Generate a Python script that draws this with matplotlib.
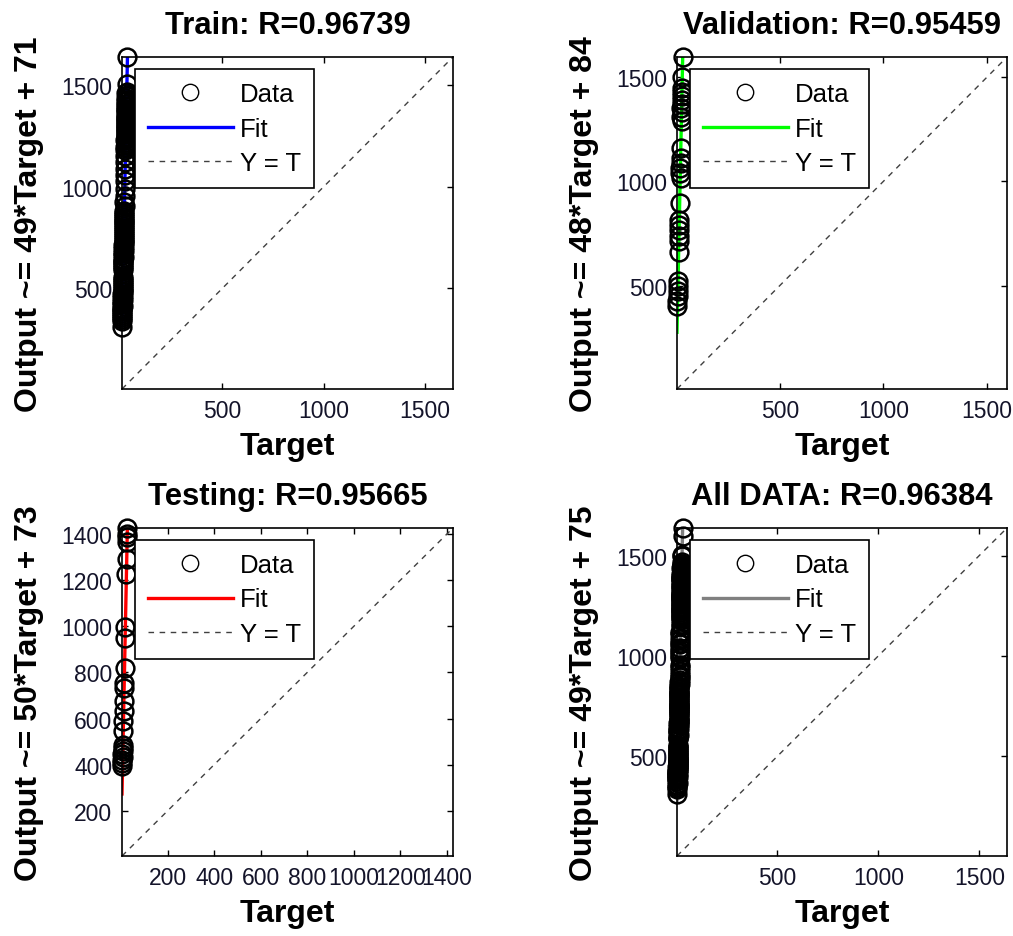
import numpy as np
import matplotlib.pyplot as plt

plt.rcParams['font.family'] = ['Liberation Sans', 'DejaVu Sans']

# targets / network outputs
train_target = [32, 29,
                29, 27, 30, 28, 26, 29, 27, 28, 26, 27, 29, 25, 27, 26, 28, 25, 27, 26, 24,
                27, 25, 26, 24, 26, 25, 23, 26, 24, 25, 23, 24, 22, 25, 23, 24, 22, 23, 22,
                22, 21, 20, 21, 19, 19, 18, 17, 18,
                17, 16, 17, 15, 16, 15, 16, 15, 14, 16, 14, 15, 14, 13, 15, 13, 14, 13, 12, 14,
                12, 13, 12, 11, 13, 11, 12, 11, 10, 12, 10, 11, 10, 9, 10, 9, 8, 10, 8, 9,
                8, 7, 9, 7, 8, 7, 6, 8, 6, 7, 6, 5, 7, 5, 6, 5,
                5]
train_output = [1637, 1505,
                1466, 1459, 1450, 1444, 1437, 1428, 1421, 1413, 1406, 1398, 1391, 1382, 1375,
                1368, 1360, 1351, 1344, 1337, 1329, 1320, 1313, 1305, 1298, 1290, 1282, 1275,
                1266, 1259, 1251, 1243, 1236, 1228, 1219, 1211, 1203, 1196, 1188, 1180,
                1150, 1120, 1085, 1059, 1025, 990, 955, 925, 905,
                880, 871, 862, 852, 843, 833, 824, 815, 805, 796, 786, 777, 768, 758, 749, 739,
                730, 721, 711, 702, 693, 683, 674, 664, 655, 646, 636, 627, 618, 608, 598, 589,
                555, 546, 536, 527, 518, 508, 499, 489, 480, 471, 461, 452, 443, 433, 424, 414,
                405, 396, 386, 377, 368, 358, 349, 340,
                312]

val_target = [32, 30, 29, 27, 28, 26, 27, 25, 27, 24, 26, 22, 21, 23, 20, 19, 21, 17,
              15, 16, 13, 15, 12, 12, 10, 8, 9, 7, 4, 6]
val_output = [1596, 1500, 1447, 1430, 1410, 1390, 1370, 1350, 1330, 1310, 1290, 1159,
              1110, 1090, 1065, 1040, 1015, 894, 812, 790, 765, 740, 716, 659, 524, 500,
              475, 450, 428, 404]

test_target = [27, 26, 25, 27, 24, 23, 19, 18, 15, 14, 13, 12, 11, 10, 9, 8, 7, 8, 6,
               7, 5, 6, 4]
test_output = [1426, 1400, 1385, 1365, 1292, 1227, 998, 947, 817, 752, 731, 675, 632,
               588, 545, 485, 472, 459, 446, 433, 420, 407, 394]

titles = ['Train: R=0.96739', 'Validation: R=0.95459',
          'Testing: R=0.95665', 'All DATA: R=0.96384']
fit_slope = [49, 48, 50, 49]
fit_icpt = [71, 84, 73, 75]
fit_colors = ['#0000ff', '#00ff00', '#ff0000', '#808080']
tick_sets = [[500, 1000, 1500], [500, 1000, 1500],
             [200, 400, 600, 800, 1000, 1200, 1400], [500, 1000, 1500]]

sets = [(train_target, train_output),
        (val_target, val_output),
        (test_target, test_output),
        (train_target + val_target + test_target,
         train_output + val_output + test_output)]

W, H = 1013, 937
fig = plt.figure(figsize=(W / 100, H / 100), dpi=100)

# axes boxes in pixels: left, top, right, bottom
boxes = [(122, 58, 453, 390), (677, 58, 1007, 390),
         (122, 529, 453, 857), (677, 529, 1007, 857)]

for i, (t, y) in enumerate(sets):
    l, tp, r, b = boxes[i]
    ax = fig.add_axes([l / W, 1 - b / H, (r - l) / W, (b - tp) / H])
    t = np.array(t, float)
    y = np.array(y, float)
    lo = min(t.min(), y.min())
    hi = max(t.max(), y.max())
    lim = np.array([lo, hi])

    m, c = fit_slope[i], fit_icpt[i]
    ax.plot(lim, m * lim + c, color=fit_colors[i], lw=2.4, label='Fit', zorder=2)
    ax.plot(lim, lim, color='#404040', lw=1, ls=(0, (4, 4)), label='Y = T', zorder=2)
    ax.plot(t, y, 'o', ms=12.8, mfc='none', mec='k', mew=1.8, label='Data',
            zorder=3, clip_on=False)

    ax.set_xlim(lo, hi)
    ax.set_ylim(lo, hi)
    ax.set_xticks(tick_sets[i])
    ax.set_yticks(tick_sets[i])
    ax.tick_params(direction='in', top=True, right=True, length=4, width=1,
                   labelsize=16.5, pad=7, labelcolor='#14142a')
    for s in ax.spines.values():
        s.set_linewidth(1.2)

    ax.set_title(titles[i], fontsize=22.3, fontweight='bold', pad=17)
    ax.set_xlabel('Target', fontsize=23, fontweight='bold')
    ax.set_ylabel('Output ~= %d*Target + %d' % (m, c), fontsize=23, fontweight='bold')
    ax.xaxis.set_label_coords(0.5, -0.128)
    ax.yaxis.set_label_coords(-0.236, 0.5)

    h, lab = ax.get_legend_handles_labels()
    order = [2, 0, 1]
    leg = ax.legend([h[k] for k in order], [lab[k] for k in order],
                    loc='upper left', bbox_to_anchor=(13 / 331, 1 - 12 / 332),
                    borderaxespad=0, fancybox=False, edgecolor='k', framealpha=1,
                    fontsize=18.5, handlelength=3.3, handletextpad=0.3,
                    labelspacing=0.42, borderpad=0.5, numpoints=1)
    leg.get_frame().set_linewidth(1.2)
    for lh in leg.legend_handles:
        if lh.get_marker() == 'o':
            lh.set_markeredgewidth(1.0)
            lh.set_markersize(11.8)

fig.savefig('out.png', dpi=100)
